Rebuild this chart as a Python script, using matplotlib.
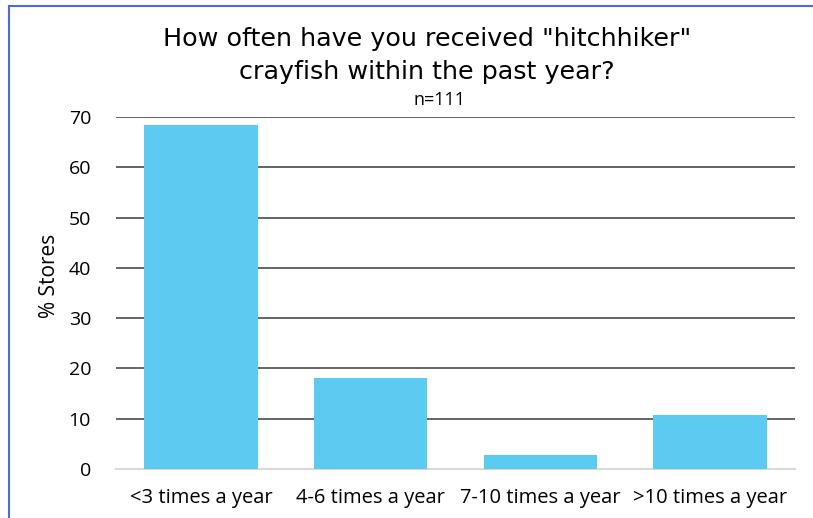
import matplotlib.pyplot as plt
from matplotlib.patches import Rectangle

categories = ['<3 times a year', '4-6 times a year', '7-10 times a year', '>10 times a year']
values = [68.5, 18.0, 2.7, 10.8]
yticks = [0, 10, 20, 30, 40, 50, 60, 70]

bar_color = '#5BCBF2'

fig = plt.figure(figsize=(8.13, 5.18), dpi=100)
ax = fig.add_axes([116 / 813, 1 - 469 / 518, (795 - 116) / 813, (469 - 117) / 518])

# frame of the slide around the chart
fig.patches.append(Rectangle((9 / 813, -0.1), 1.2, 1 - 6 / 518 + 0.1,
                             transform=fig.transFigure, fill=False,
                             edgecolor='#4F6BD8', linewidth=1.5))

x = range(len(categories))
ax.bar(x, values, width=0.67, color=bar_color, zorder=3)

ax.set_xlim(-0.5, len(categories) - 0.5)
ax.set_ylim(0, 70)
ax.set_yticks(yticks)
ax.set_xticks(list(x))
ax.set_xticklabels(categories, fontsize=14.5, family='Open Sans')
ax.set_yticklabels([str(t) for t in yticks], fontsize=14, family='Open Sans')
ax.tick_params(length=0)
ax.tick_params(axis='x', pad=14)
ax.tick_params(axis='y', pad=18)

for s in ['top', 'right', 'left']:
    ax.spines[s].set_visible(False)
ax.spines['bottom'].set_color('#D9D9D9')
ax.spines['bottom'].set_linewidth(1.5)
for t in yticks[1:]:
    ax.axhline(t, color='#4A4A4A', linewidth=1.2, zorder=1)

ax.set_ylabel('% Stores', fontsize=15, family='Open Sans')
ax.yaxis.set_label_coords(-0.083, 0.55)

fig.text(0.525, 0.893, 'How often have you received "hitchhiker"\ncrayfish within the past year?',
         ha='center', va='center', fontsize=18.3, family='DejaVu Sans', linespacing=1.45)
fig.text(0.541, 0.807, 'n=111', ha='center', va='center', fontsize=13, family='Open Sans')

fig.savefig('out.png', dpi=100)
